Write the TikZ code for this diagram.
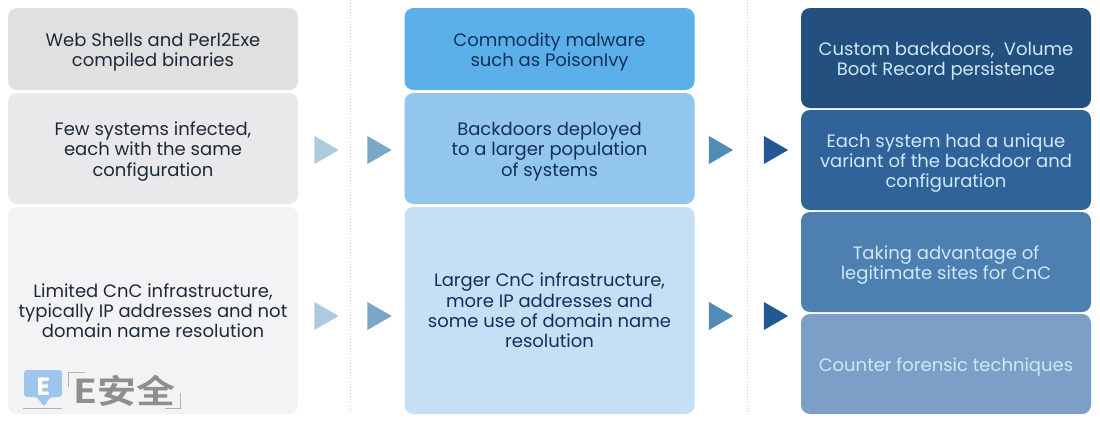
\documentclass[tikz,border=0pt]{standalone}
\usepackage{fontspec}
\setmainfont{Poppins}
\newfontfamily\cjkfont{Noto Sans CJK SC}[BoldFont={* Bold}]
\usetikzlibrary{shapes.geometric}

\definecolor{darktext}{HTML}{1E2A38}
\definecolor{navytext}{HTML}{12305A}
\definecolor{palered}{HTML}{CDE9F6}
\definecolor{greya}{HTML}{E0E0E0}
\definecolor{greyb}{HTML}{E9E8EA}
\definecolor{greyc}{HTML}{F3F3F5}
\definecolor{bluea}{HTML}{5CB0EA}
\definecolor{blueb}{HTML}{93C6EC}
\definecolor{bluec}{HTML}{C5DFF5}
\definecolor{deepa}{HTML}{245080}
\definecolor{deepb}{HTML}{2F639A}
\definecolor{deepc}{HTML}{4E7FB1}
\definecolor{deepd}{HTML}{7C9FC7}
\definecolor{arrowa}{HTML}{ACCBDF}
\definecolor{arrowb}{HTML}{7AA6C7}
\definecolor{arrowc}{HTML}{528CB6}
\definecolor{arrowd}{HTML}{245892}
\definecolor{markblue}{HTML}{9EC6EC}
\definecolor{markgrey}{HTML}{8E8E90}
\tikzset{
    box/.style={rounded corners=9pt, minimum width=290pt, inner sep=0pt},
    boxtext/.style={inner sep=0pt, align=center,
        font=\fontsize{18}{20.2}\selectfont},
    arrowhead/.style={isosceles triangle, isosceles triangle apex angle=60, inner sep=0pt,
        minimum width=28pt, minimum height=24pt, shape border rotate=0},
    divider/.style={dotted, line width=1pt, gray!40},
}

\begin{document}
\begin{tikzpicture}[x=1pt, y=-1pt]
    \useasboundingbox (0,0) rectangle (1100,423);
    \fill[white] (0,0) rectangle (1100,423);

    \draw[divider] (350,0) -- (350,414);
    \draw[divider] (747,0) -- (747,414);

    % left column
    \node[box, fill=greya, minimum height=82pt] (webshells) at (153,49) {};
    \node[box, fill=greyb, minimum height=111pt] (fewsystems) at (153,148.5) {};
    \node[box, fill=greyc, minimum height=207pt] (limitedcnc) at (153,310.5) {};
    \node[boxtext, text=darktext, yshift=-3pt] (webshellstext) at (webshells) {Web Shells and Perl2Exe\\compiled binaries};
    \node[boxtext, text=darktext, yshift=-3pt] (fewsystemstext) at (fewsystems) {Few systems infected,\\each with the same\\configuration};
    \node[boxtext, text=darktext] (limitedcnctext) at (limitedcnc) {Limited CnC infrastructure,\\typically IP addresses and not\\domain name resolution};

    % middle column
    \node[box, fill=bluea, minimum height=82pt] (commodity) at (549.5,49) {};
    \node[box, fill=blueb, minimum height=111pt] (backdoors) at (549.5,148.5) {};
    \node[box, fill=bluec, minimum height=207pt] (largercnc) at (549.5,310.5) {};
    \node[boxtext, text=navytext, yshift=-3pt] (commoditytext) at (commodity) {Commodity malware\\such as PoisonIvy};
    \node[boxtext, text=navytext, yshift=-3pt] (backdoorstext) at (backdoors) {Backdoors deployed\\to a larger population\\of systems};
    \node[boxtext, text=navytext] (largercnctext) at (largercnc) {Larger CnC infrastructure,\\more IP addresses and\\some use of domain name\\resolution};

    % right column
    \node[box, fill=deepa, minimum height=100pt] (custom) at (946,58) {};
    \node[box, fill=deepb, minimum height=100pt] (unique) at (946,160) {};
    \node[box, fill=deepc, minimum height=100pt] (legit) at (946,262) {};
    \node[box, fill=deepd, minimum height=100pt] (forensic) at (946,364) {};
    \node[boxtext, text=palered, yshift=-3pt] (customtext) at (custom) {Custom backdoors,~ Volume\\Boot Record persistence};
    \node[boxtext, text=palered, yshift=-3pt] (uniquetext) at (unique) {Each system had a unique\\variant of the backdoor and\\configuration};
    \node[boxtext, text=palered, yshift=-3pt] (legittext) at (legit) {Taking advantage of\\legitimate sites for CnC};
    \node[boxtext, text=palered, yshift=-3pt] (forensictext) at (forensic) {Counter forensic techniques};

    % arrows
    \foreach \y/\n in {150/a, 316/b} {
        \node[arrowhead, fill=arrowa] (arrow1\n) at (322.5,\y) {};
        \node[arrowhead, fill=arrowb] (arrow2\n) at (375.5,\y) {};
        \node[arrowhead, fill=arrowc] (arrow3\n) at (717,\y) {};
        \node[arrowhead, fill=arrowd] (arrow4\n) at (772,\y) {};
    }

    % watermark
    \fill[rounded corners=3pt, fill=markblue] (24,370) -- (62,370) -- (62,397) -- (50,397) -- (44,407) -- (37,397) -- (24,397) -- cycle;
    \node[font=\bfseries\fontsize{25}{25}\selectfont, text=white, inner sep=0pt] (logoletter) at (43.5,387) {E};
    \draw[gray!60, line width=1pt] (23,408.5) -- (62,408.5);
    \draw[gray!60, line width=.8pt] (68,387) -- (68,372) -- (85,372);
    \draw[gray!60, line width=.8pt] (180,393) -- (180,408) -- (165,408);
    \node[font=\cjkfont\bfseries\fontsize{33}{33}\selectfont, text=markgrey, inner sep=0pt, xscale=1.18] (logotext) at (124.5,391) {E安全};
\end{tikzpicture}
\end{document}
